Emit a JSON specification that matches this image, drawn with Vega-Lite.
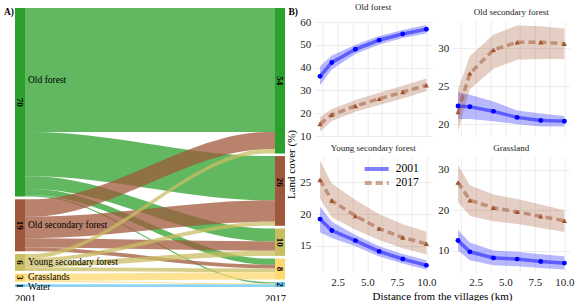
{
  "$schema": "https://vega.github.io/schema/vega-lite/v6.json",
  "background": "white",
  "padding": {"left": 3, "top": 3, "right": 0, "bottom": 0},
  "config": {
    "font": "Liberation Serif",
    "view": {"stroke": null},
    "axis": {"grid": true, "gridColor": "#ebebeb", "gridWidth": 0.9, "domain": false, "ticks": false, "labelFont": "Liberation Serif", "labelFontSize": 11, "labelColor": "#1a1a1a", "labelPadding": 4, "labelOverlap": false, "labelFlush": false, "titleFont": "Liberation Serif", "titleFontSize": 11, "titleFontWeight": "normal", "titleColor": "#000"},
    "legend": {"labelFont": "Liberation Serif"},
    "title": {"font": "Liberation Serif", "fontSize": 9, "fontWeight": "normal", "offset": 4, "color": "#1a1a1a", "frame": "group"}
  },
  "datasets": {
    "flows": [
      {"f":1,"s":"Old forest","x":0,"y0":0,"y1":46.2},{"f":1,"s":"Old forest","x":0.03,"y0":0,"y1":46.2},{"f":1,"s":"Old forest","x":0.97,"y0":0,"y1":46.2},{"f":1,"s":"Old forest","x":1,"y0":0,"y1":46.2},
      {"f":2,"s":"Old forest","x":0,"y0":46.2,"y1":62.7},{"f":2,"s":"Old forest","x":0.03,"y0":46.2,"y1":62.7},{"f":2,"s":"Old forest","x":0.97,"y0":55.2,"y1":71.7},{"f":2,"s":"Old forest","x":1,"y0":55.2,"y1":71.7},
      {"f":3,"s":"Old forest","x":0,"y0":62.7,"y1":67.5},{"f":3,"s":"Old forest","x":0.03,"y0":62.7,"y1":67.5},{"f":3,"s":"Old forest","x":0.97,"y0":82.2,"y1":87.0},{"f":3,"s":"Old forest","x":1,"y0":82.2,"y1":87.0},
      {"f":4,"s":"Old forest","x":0,"y0":67.5,"y1":69.8},{"f":4,"s":"Old forest","x":0.03,"y0":67.5,"y1":69.8},{"f":4,"s":"Old forest","x":0.97,"y0":93.4,"y1":95.7},{"f":4,"s":"Old forest","x":1,"y0":93.4,"y1":95.7},
      {"f":5,"s":"Old forest","x":0,"y0":69.8,"y1":70.3},{"f":5,"s":"Old forest","x":0.03,"y0":69.8,"y1":70.3},{"f":5,"s":"Old forest","x":0.97,"y0":102.2,"y1":102.7},{"f":5,"s":"Old forest","x":1,"y0":102.2,"y1":102.7},
      {"f":6,"s":"Old secondary forest","x":0,"y0":71.3,"y1":77.8},{"f":6,"s":"Old secondary forest","x":0.03,"y0":71.3,"y1":77.8},{"f":6,"s":"Old secondary forest","x":0.97,"y0":46.2,"y1":52.7},{"f":6,"s":"Old secondary forest","x":1,"y0":46.2,"y1":52.7},
      {"f":7,"s":"Old secondary forest","x":0,"y0":77.8,"y1":85.8},{"f":7,"s":"Old secondary forest","x":0.03,"y0":77.8,"y1":85.8},{"f":7,"s":"Old secondary forest","x":0.97,"y0":71.7,"y1":79.7},{"f":7,"s":"Old secondary forest","x":1,"y0":71.7,"y1":79.7},
      {"f":8,"s":"Old secondary forest","x":0,"y0":85.8,"y1":89.3},{"f":8,"s":"Old secondary forest","x":0.03,"y0":85.8,"y1":89.3},{"f":8,"s":"Old secondary forest","x":0.97,"y0":87.0,"y1":90.5},{"f":8,"s":"Old secondary forest","x":1,"y0":87.0,"y1":90.5},
      {"f":9,"s":"Old secondary forest","x":0,"y0":89.3,"y1":90.7},{"f":9,"s":"Old secondary forest","x":0.03,"y0":89.3,"y1":90.7},{"f":9,"s":"Old secondary forest","x":0.97,"y0":95.7,"y1":97.1},{"f":9,"s":"Old secondary forest","x":1,"y0":95.7,"y1":97.1},
      {"f":10,"s":"Young secondary forest","x":0,"y0":91.7,"y1":93.2},{"f":10,"s":"Young secondary forest","x":0.03,"y0":91.7,"y1":93.2},{"f":10,"s":"Young secondary forest","x":0.97,"y0":52.7,"y1":54.2},{"f":10,"s":"Young secondary forest","x":1,"y0":52.7,"y1":54.2},
      {"f":11,"s":"Young secondary forest","x":0,"y0":93.2,"y1":94.7},{"f":11,"s":"Young secondary forest","x":0.03,"y0":93.2,"y1":94.7},{"f":11,"s":"Young secondary forest","x":0.97,"y0":79.7,"y1":81.2},{"f":11,"s":"Young secondary forest","x":1,"y0":79.7,"y1":81.2},
      {"f":12,"s":"Young secondary forest","x":0,"y0":94.7,"y1":96.6},{"f":12,"s":"Young secondary forest","x":0.03,"y0":94.7,"y1":96.6},{"f":12,"s":"Young secondary forest","x":0.97,"y0":90.5,"y1":92.4},{"f":12,"s":"Young secondary forest","x":1,"y0":90.5,"y1":92.4},
      {"f":13,"s":"Young secondary forest","x":0,"y0":96.6,"y1":98.0},{"f":13,"s":"Young secondary forest","x":0.03,"y0":96.6,"y1":98.0},{"f":13,"s":"Young secondary forest","x":0.97,"y0":97.1,"y1":98.5},{"f":13,"s":"Young secondary forest","x":1,"y0":97.1,"y1":98.5},
      {"f":14,"s":"Grasslands","x":0,"y0":99.0,"y1":101.7},{"f":14,"s":"Grasslands","x":0.03,"y0":99.0,"y1":101.7},{"f":14,"s":"Grasslands","x":0.97,"y0":98.5,"y1":101.2},{"f":14,"s":"Grasslands","x":1,"y0":98.5,"y1":101.2},
      {"f":15,"s":"Grasslands","x":0,"y0":101.7,"y1":102.0},{"f":15,"s":"Grasslands","x":0.03,"y0":101.7,"y1":102.0},{"f":15,"s":"Grasslands","x":0.97,"y0":102.7,"y1":103.0},{"f":15,"s":"Grasslands","x":1,"y0":102.7,"y1":103.0},
      {"f":16,"s":"Water","x":0,"y0":103.0,"y1":104.0},{"f":16,"s":"Water","x":0.03,"y0":103.0,"y1":104.0},{"f":16,"s":"Water","x":0.97,"y0":103.0,"y1":104.0},{"f":16,"s":"Water","x":1,"y0":103.0,"y1":104.0}
    ],
    "strata": [
      {"x":-0.02,"cat":"Old forest","y0":0,"y1":70.3,"ym":35.15,"n":"70"},
      {"x":-0.02,"cat":"Old secondary forest","y0":71.3,"y1":90.7,"ym":81.0,"n":"19"},
      {"x":-0.02,"cat":"Young secondary forest","y0":91.7,"y1":98.0,"ym":94.85,"n":"6"},
      {"x":-0.02,"cat":"Grasslands","y0":99.0,"y1":102.0,"ym":100.5,"n":"3"},
      {"x":-0.02,"cat":"Water","y0":103.0,"y1":104.0,"ym":103.5,"n":"1"},
      {"x":1.02,"cat":"Old forest","y0":0,"y1":54.2,"ym":27.1,"n":"54"},
      {"x":1.02,"cat":"Old secondary forest","y0":55.2,"y1":81.2,"ym":65.0,"n":"26"},
      {"x":1.02,"cat":"Young secondary forest","y0":82.2,"y1":92.4,"ym":87.3,"n":"10"},
      {"x":1.02,"cat":"Grasslands","y0":93.4,"y1":101.2,"ym":97.3,"n":"8"},
      {"x":1.02,"cat":"Water","y0":102.2,"y1":104.0,"ym":103.1,"n":"2"}
    ],
    "catlab": [
      {"label":"Old forest","y":27},
      {"label":"Old secondary forest","y":81},
      {"label":"Young secondary forest","y":94.85},
      {"label":"Grasslands","y":100.3},
      {"label":"Water","y":103.95}
    ],
    "tags": [
      {"tag":"A)","x":-0.044,"y":1.5},
      {"tag":"B)","x":1.092,"y":1.5}
    ],
    "lc": [
      {"c":"Old forest","yr":"2001","d":1,"m":36.2,"lo":32.3,"hi":40.6},
      {"c":"Old forest","yr":"2001","d":2,"m":42.3,"lo":39.2,"hi":45.4},
      {"c":"Old forest","yr":"2001","d":4,"m":48.1,"lo":46.0,"hi":50.1},
      {"c":"Old forest","yr":"2001","d":6,"m":52.1,"lo":50.2,"hi":53.9},
      {"c":"Old forest","yr":"2001","d":8,"m":54.8,"lo":53.0,"hi":56.6},
      {"c":"Old forest","yr":"2001","d":10,"m":56.9,"lo":55.0,"hi":58.8},
      {"c":"Old forest","yr":"2017","d":1,"m":15.3,"lo":12.0,"hi":18.3},
      {"c":"Old forest","yr":"2017","d":2,"m":19.3,"lo":16.6,"hi":21.9},
      {"c":"Old forest","yr":"2017","d":4,"m":23.2,"lo":20.6,"hi":25.8},
      {"c":"Old forest","yr":"2017","d":6,"m":26.3,"lo":23.6,"hi":29.0},
      {"c":"Old forest","yr":"2017","d":8,"m":29.3,"lo":26.5,"hi":32.1},
      {"c":"Old forest","yr":"2017","d":10,"m":32.3,"lo":29.6,"hi":35.2},
      {"c":"Old secondary forest","yr":"2001","d":1,"m":22.4,"lo":20.7,"hi":24.2},
      {"c":"Old secondary forest","yr":"2001","d":2,"m":22.3,"lo":20.7,"hi":23.9},
      {"c":"Old secondary forest","yr":"2001","d":4,"m":21.7,"lo":20.4,"hi":23.0},
      {"c":"Old secondary forest","yr":"2001","d":6,"m":20.9,"lo":20.0,"hi":21.8},
      {"c":"Old secondary forest","yr":"2001","d":8,"m":20.5,"lo":19.7,"hi":21.4},
      {"c":"Old secondary forest","yr":"2001","d":10,"m":20.4,"lo":19.7,"hi":21.1},
      {"c":"Old secondary forest","yr":"2017","d":1,"m":21.6,"lo":19.0,"hi":24.6},
      {"c":"Old secondary forest","yr":"2017","d":2,"m":26.7,"lo":24.6,"hi":29.0},
      {"c":"Old secondary forest","yr":"2017","d":4,"m":29.8,"lo":27.3,"hi":31.8},
      {"c":"Old secondary forest","yr":"2017","d":6,"m":30.8,"lo":28.5,"hi":33.0},
      {"c":"Old secondary forest","yr":"2017","d":8,"m":30.8,"lo":28.6,"hi":32.9},
      {"c":"Old secondary forest","yr":"2017","d":10,"m":30.6,"lo":28.6,"hi":32.6},
      {"c":"Young secondary forest","yr":"2001","d":1,"m":19.2,"lo":17.1,"hi":21.2},
      {"c":"Young secondary forest","yr":"2001","d":2,"m":17.4,"lo":16.2,"hi":18.8},
      {"c":"Young secondary forest","yr":"2001","d":4,"m":15.8,"lo":14.9,"hi":16.7},
      {"c":"Young secondary forest","yr":"2001","d":6,"m":14.1,"lo":13.3,"hi":14.9},
      {"c":"Young secondary forest","yr":"2001","d":8,"m":12.9,"lo":12.2,"hi":13.7},
      {"c":"Young secondary forest","yr":"2001","d":10,"m":11.9,"lo":11.2,"hi":12.7},
      {"c":"Young secondary forest","yr":"2017","d":1,"m":25.4,"lo":22.4,"hi":28.4},
      {"c":"Young secondary forest","yr":"2017","d":2,"m":22.1,"lo":19.5,"hi":24.8},
      {"c":"Young secondary forest","yr":"2017","d":4,"m":19.7,"lo":17.5,"hi":22.2},
      {"c":"Young secondary forest","yr":"2017","d":6,"m":17.7,"lo":15.9,"hi":20.0},
      {"c":"Young secondary forest","yr":"2017","d":8,"m":16.3,"lo":14.6,"hi":18.4},
      {"c":"Young secondary forest","yr":"2017","d":10,"m":15.3,"lo":13.6,"hi":17.2},
      {"c":"Grassland","yr":"2001","d":1,"m":12.5,"lo":10.0,"hi":15.1},
      {"c":"Grassland","yr":"2001","d":2,"m":9.7,"lo":7.6,"hi":12.0},
      {"c":"Grassland","yr":"2001","d":4,"m":8.2,"lo":6.4,"hi":10.0},
      {"c":"Grassland","yr":"2001","d":6,"m":7.9,"lo":6.1,"hi":9.7},
      {"c":"Grassland","yr":"2001","d":8,"m":7.3,"lo":5.7,"hi":9.1},
      {"c":"Grassland","yr":"2001","d":10,"m":6.9,"lo":5.3,"hi":8.6},
      {"c":"Grassland","yr":"2017","d":1,"m":26.9,"lo":22.0,"hi":31.2},
      {"c":"Grassland","yr":"2017","d":2,"m":22.5,"lo":18.6,"hi":26.2},
      {"c":"Grassland","yr":"2017","d":4,"m":20.6,"lo":17.3,"hi":23.9},
      {"c":"Grassland","yr":"2017","d":6,"m":19.6,"lo":16.6,"hi":22.8},
      {"c":"Grassland","yr":"2017","d":8,"m":18.5,"lo":15.6,"hi":21.4},
      {"c":"Grassland","yr":"2017","d":10,"m":17.4,"lo":14.6,"hi":20.0}
    ]
  },
  "hconcat": [
    {
      "width": 270,
      "height": 266,
      "layer": [
        {
          "data": {"name": "flows"},
          "mark": {"type": "area", "interpolate": "monotone", "opacity": 0.75},
          "encoding": {
            "x": {"field": "x", "type": "quantitative", "scale": {"domain": [-0.04, 1.04], "nice": false, "zero": false, "padding": 0},
                  "axis": {"values": [0, 1], "labelExpr": "datum.value == 0 ? '2001' : '2017'", "grid": false, "title": null, "labelFontSize": 10.5, "labelPadding": 6, "labelColor": "#000"}},
            "y": {"field": "y0", "type": "quantitative", "scale": {"domain": [4.85, 104], "reverse": true, "nice": false, "zero": false, "padding": 0}, "axis": null},
            "y2": {"field": "y1"},
            "color": {"field": "s", "type": "nominal", "scale": {"domain": ["Old forest", "Old secondary forest", "Young secondary forest", "Grasslands", "Water"], "range": ["#2ca02c", "#a0583c", "#c9bd62", "#fdd870", "#66c8ef"]}, "legend": null},
            "detail": {"field": "f", "type": "nominal"}
          }
        },
        {
          "data": {"name": "strata"},
          "mark": {"type": "bar", "width": 10},
          "encoding": {
            "x": {"field": "x", "type": "quantitative"},
            "y": {"field": "y0", "type": "quantitative"},
            "y2": {"field": "y1"},
            "color": {"field": "cat", "type": "nominal", "legend": null}
          }
        },
        {
          "data": {"name": "strata"},
          "mark": {"type": "text", "angle": 90, "fontWeight": "bold", "fontSize": 9, "baseline": "middle", "align": "center", "color": "#000"},
          "encoding": {
            "x": {"field": "x", "type": "quantitative"},
            "y": {"field": "ym", "type": "quantitative"},
            "text": {"field": "n"}
          }
        },
        {
          "data": {"name": "catlab"},
          "mark": {"type": "text", "align": "left", "baseline": "middle", "fontSize": 9.5, "dx": 3, "color": "#000"},
          "encoding": {
            "x": {"datum": 0, "type": "quantitative"},
            "y": {"field": "y", "type": "quantitative"},
            "text": {"field": "label"}
          }
        },
        {
          "data": {"name": "tags"},
          "mark": {"type": "text", "align": "right", "baseline": "middle", "fontSize": 9.5, "fontWeight": "bold", "color": "#000"},
          "encoding": {
            "x": {"field": "x", "type": "quantitative"},
            "y": {"field": "y", "type": "quantitative"},
            "text": {"field": "tag"}
          }
        }
      ]
    },
    {
      "columns": 2,
      "spacing": {"row": 21, "column": 21},
      "bounds": "flush",
      "resolve": {"scale": {"color": "independent", "strokeDash": "independent", "x": "independent", "y": "independent"}},
      "concat": [
        {
          "width": 117, "height": 115,
          "title": {"text": "Old forest", "frame": "group", "anchor": "middle"},
          "data": {"name": "lc"},
          "transform": [{"filter": "datum.c == 'Old forest'"}],
          "encoding": {"x": {"field": "d", "type": "quantitative", "scale": {"domain": [0.55, 10.45], "nice": false, "zero": false}, "axis": {"values": [1.25, 2.5, 3.75, 5, 6.25, 7.5, 8.75, 10], "labels": false, "title": null}}},
          "layer": [
            {"mark": {"type": "area", "opacity": 0.28},
             "encoding": {"y": {"field": "lo", "type": "quantitative", "scale": {"domain": [10, 60.5], "nice": false, "zero": false},
                                "axis": {"values": [10, 20, 30, 40, 50, 60], "format": "d", "labelOverlap": false, "title": "Land cover (%)", "titleY": 143, "titlePadding": 3}},
                          "y2": {"field": "hi"},
                          "color": {"field": "yr", "type": "nominal", "scale": {"domain": ["2001", "2017"], "range": ["#0000ff", "#a0522d"]}, "legend": null}}},
            {"mark": {"type": "line", "strokeWidth": 3.5, "opacity": 0.5},
             "encoding": {"y": {"field": "m", "type": "quantitative", "axis": {"values": [10, 20, 30, 40, 50, 60], "format": "d", "labelOverlap": false, "title": "Land cover (%)", "titleY": 143, "titlePadding": 3}},
                          "color": {"field": "yr", "type": "nominal", "legend": null},
                          "strokeDash": {"field": "yr", "type": "nominal", "scale": {"domain": ["2001", "2017"], "range": [[1, 0], [7, 4]]}, "legend": null}}},
            {"transform": [{"filter": "datum.yr == '2001'"}],
             "mark": {"type": "point", "shape": "circle", "filled": true, "size": 24, "opacity": 1},
             "encoding": {"y": {"field": "m", "type": "quantitative", "axis": {"values": [10, 20, 30, 40, 50, 60], "format": "d", "labelOverlap": false, "title": "Land cover (%)", "titleY": 143, "titlePadding": 3}}, "color": {"field": "yr", "type": "nominal", "legend": null}}},
            {"transform": [{"filter": "datum.yr == '2017'"}],
             "mark": {"type": "point", "shape": "triangle-up", "filled": true, "size": 26, "opacity": 1},
             "encoding": {"y": {"field": "m", "type": "quantitative", "axis": {"values": [10, 20, 30, 40, 50, 60], "format": "d", "labelOverlap": false, "title": "Land cover (%)", "titleY": 143, "titlePadding": 3}}, "color": {"field": "yr", "type": "nominal", "legend": null}}}
          ]
        },
        {
          "width": 117, "height": 115,
          "title": {"text": "Old secondary forest", "frame": "group", "anchor": "middle"},
          "data": {"name": "lc"},
          "transform": [{"filter": "datum.c == 'Old secondary forest'"}],
          "encoding": {"x": {"field": "d", "type": "quantitative", "scale": {"domain": [0.55, 10.45], "nice": false, "zero": false}, "axis": {"values": [1.25, 2.5, 3.75, 5, 6.25, 7.5, 8.75, 10], "labels": false, "title": null}}},
          "layer": [
            {"mark": {"type": "area", "opacity": 0.28},
             "encoding": {"y": {"field": "lo", "type": "quantitative", "scale": {"domain": [18.45, 33.6], "nice": false, "zero": false},
                                "axis": {"values": [20, 25, 30], "format": "d", "labelOverlap": false, "title": null}},
                          "y2": {"field": "hi"},
                          "color": {"field": "yr", "type": "nominal", "scale": {"domain": ["2001", "2017"], "range": ["#0000ff", "#a0522d"]}, "legend": null}}},
            {"mark": {"type": "line", "strokeWidth": 3.5, "opacity": 0.5},
             "encoding": {"y": {"field": "m", "type": "quantitative", "axis": {"values": [20, 25, 30], "format": "d", "labelOverlap": false, "title": null}},
                          "color": {"field": "yr", "type": "nominal", "legend": null},
                          "strokeDash": {"field": "yr", "type": "nominal", "scale": {"domain": ["2001", "2017"], "range": [[1, 0], [7, 4]]}, "legend": null}}},
            {"transform": [{"filter": "datum.yr == '2001'"}],
             "mark": {"type": "point", "shape": "circle", "filled": true, "size": 24, "opacity": 1},
             "encoding": {"y": {"field": "m", "type": "quantitative", "axis": {"values": [20, 25, 30], "format": "d", "labelOverlap": false, "title": null}}, "color": {"field": "yr", "type": "nominal", "legend": null}}},
            {"transform": [{"filter": "datum.yr == '2017'"}],
             "mark": {"type": "point", "shape": "triangle-up", "filled": true, "size": 26, "opacity": 1},
             "encoding": {"y": {"field": "m", "type": "quantitative", "axis": {"values": [20, 25, 30], "format": "d", "labelOverlap": false, "title": null}}, "color": {"field": "yr", "type": "nominal", "legend": null}}}
          ]
        },
        {
          "width": 117, "height": 115,
          "title": {"text": "Young secondary forest", "frame": "group", "anchor": "middle"},
          "data": {"name": "lc"},
          "transform": [{"filter": "datum.c == 'Young secondary forest'"}],
          "encoding": {"x": {"field": "d", "type": "quantitative", "scale": {"domain": [0.55, 10.45], "nice": false, "zero": false},
                             "axis": {"values": [1.25, 2.5, 3.75, 5, 6.25, 7.5, 8.75, 10], "labelOverlap": false, "labelExpr": "datum.value % 2.5 == 0 ? format(datum.value, '.1f') : ''", "title": "Distance from the villages (km)", "titleX": 127.3, "titlePadding": 3}}},
          "layer": [
            {"mark": {"type": "area", "opacity": 0.28},
             "encoding": {"y": {"field": "lo", "type": "quantitative", "scale": {"domain": [10.85, 29.0], "nice": false, "zero": false},
                                "axis": {"values": [15, 20, 25], "format": "d", "labelOverlap": false, "title": null}},
                          "y2": {"field": "hi"},
                          "color": {"field": "yr", "type": "nominal", "scale": {"domain": ["2001", "2017"], "range": ["#0000ff", "#a0522d"]},
                                    "legend": {"title": null, "orient": "none", "legendX": 56, "legendY": 6, "symbolType": "M-3,0H3", "symbolSize": 64, "symbolStrokeWidth": 4, "symbolOpacity": 0.55, "labelFontSize": 11.5, "labelColor": "#000", "labelOffset": 13, "rowPadding": -3}}}},
            {"mark": {"type": "line", "strokeWidth": 3.5, "opacity": 0.5},
             "encoding": {"y": {"field": "m", "type": "quantitative", "axis": {"values": [15, 20, 25], "format": "d", "labelOverlap": false, "title": null}},
                          "color": {"field": "yr", "type": "nominal"},
                          "strokeDash": {"field": "yr", "type": "nominal", "scale": {"domain": ["2001", "2017"], "range": [[1, 0], [7, 4]]},
                                    "legend": {"title": null, "orient": "none", "legendX": 56, "legendY": 6, "symbolType": "M-3,0H3", "symbolSize": 64, "symbolStrokeWidth": 4, "symbolOpacity": 0.55, "labelFontSize": 11.5, "labelColor": "#000", "labelOffset": 13, "rowPadding": -3}}}},
            {"transform": [{"filter": "datum.yr == '2001'"}],
             "mark": {"type": "point", "shape": "circle", "filled": true, "size": 24, "opacity": 1},
             "encoding": {"y": {"field": "m", "type": "quantitative", "axis": {"values": [15, 20, 25], "format": "d", "labelOverlap": false, "title": null}}, "color": {"field": "yr", "type": "nominal"}}},
            {"transform": [{"filter": "datum.yr == '2017'"}],
             "mark": {"type": "point", "shape": "triangle-up", "filled": true, "size": 26, "opacity": 1},
             "encoding": {"y": {"field": "m", "type": "quantitative", "axis": {"values": [15, 20, 25], "format": "d", "labelOverlap": false, "title": null}}, "color": {"field": "yr", "type": "nominal"}}}
          ]
        },
        {
          "width": 117, "height": 115,
          "title": {"text": "Grassland", "frame": "group", "anchor": "middle"},
          "data": {"name": "lc"},
          "transform": [{"filter": "datum.c == 'Grassland'"}],
          "encoding": {"x": {"field": "d", "type": "quantitative", "scale": {"domain": [0.55, 10.45], "nice": false, "zero": false},
                             "axis": {"values": [1.25, 2.5, 3.75, 5, 6.25, 7.5, 8.75, 10], "labelOverlap": false, "labelExpr": "datum.value % 2.5 == 0 ? format(datum.value, '.1f') : ''", "title": null}}},
          "layer": [
            {"mark": {"type": "area", "opacity": 0.28},
             "encoding": {"y": {"field": "lo", "type": "quantitative", "scale": {"domain": [4.7, 33.2], "nice": false, "zero": false},
                                "axis": {"values": [10, 20, 30], "format": "d", "labelOverlap": false, "title": null}},
                          "y2": {"field": "hi"},
                          "color": {"field": "yr", "type": "nominal", "scale": {"domain": ["2001", "2017"], "range": ["#0000ff", "#a0522d"]}, "legend": null}}},
            {"mark": {"type": "line", "strokeWidth": 3.5, "opacity": 0.5},
             "encoding": {"y": {"field": "m", "type": "quantitative", "axis": {"values": [10, 20, 30], "format": "d", "labelOverlap": false, "title": null}},
                          "color": {"field": "yr", "type": "nominal", "legend": null},
                          "strokeDash": {"field": "yr", "type": "nominal", "scale": {"domain": ["2001", "2017"], "range": [[1, 0], [7, 4]]}, "legend": null}}},
            {"transform": [{"filter": "datum.yr == '2001'"}],
             "mark": {"type": "point", "shape": "circle", "filled": true, "size": 24, "opacity": 1},
             "encoding": {"y": {"field": "m", "type": "quantitative", "axis": {"values": [10, 20, 30], "format": "d", "labelOverlap": false, "title": null}}, "color": {"field": "yr", "type": "nominal", "legend": null}}},
            {"transform": [{"filter": "datum.yr == '2017'"}],
             "mark": {"type": "point", "shape": "triangle-up", "filled": true, "size": 26, "opacity": 1},
             "encoding": {"y": {"field": "m", "type": "quantitative", "axis": {"values": [10, 20, 30], "format": "d", "labelOverlap": false, "title": null}}, "color": {"field": "yr", "type": "nominal", "legend": null}}}
          ]
        }
      ]
    }
  ],
  "spacing": 29.7,
  "bounds": "flush",
  "resolve": {"scale": {"color": "independent", "x": "independent", "y": "independent"}}
}
